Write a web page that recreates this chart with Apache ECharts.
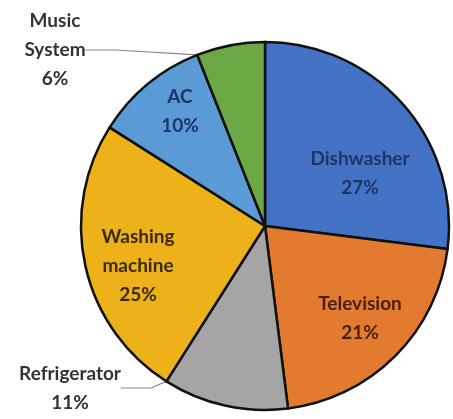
<!DOCTYPE html>
<html><head><meta charset="utf-8">
<script src="https://cdn.jsdelivr.net/npm/echarts@6/dist/echarts.min.js"></script>
<style>html,body{margin:0;padding:0;background:#fff}#c{width:453px;height:419px}</style>
</head><body><div id="c"></div>
<script>
const categories = ['Dishwasher', 'Television', 'Refrigerator', 'Washing\nmachine', 'AC', 'Music\nSystem'];
const values = [27, 21, 11, 25, 10, 6];
const sliceColors = ['#4472C4', '#E27B2F', '#A5A5A5', '#EDB11A', '#5B9BD5', '#6BA846'];
const textColors = ['#1F3566', '#4A1F08', '#333333', '#3D2A00', '#1F3566', '#333333'];
const labelPlace = [
  {x: 360, y: 173},
  {x: 360, y: 318},
  {x: 70, y: 388, line: [[166, 381], [150, 384], [134, 384]]},
  {x: 138, y: 266},
  {x: 180, y: 111},
  {x: 55, y: 50, line: [[197, 47], [150, 54], [97, 58]]}
];
const chart = echarts.init(document.getElementById('c'), null, {renderer: 'canvas'});
chart.setOption({
  animation: false,
  series: [{
    type: 'pie',
    center: [265, 226],
    radius: 184,
    startAngle: 90,
    clockwise: true,
    data: categories.map((n, i) => ({
      name: n, value: values[i],
      itemStyle: {color: sliceColors[i]},
      label: {color: textColors[i]},
      labelLine: {show: !!labelPlace[i].line}
    })),
    itemStyle: {borderColor: '#111', borderWidth: 2.5},
    label: {
      position: 'inside',
      formatter: p => p.name + '\n' + p.value + '%',
      fontFamily: 'Lato', fontWeight: 'bold', fontSize: 19, lineHeight: 29,
      align: 'center'
    },
    labelLine: {lineStyle: {color: '#888', width: 1.2}},
    labelLayout: function (p) {
      const L = labelPlace[p.dataIndex];
      const o = {x: L.x, y: L.y, align: 'center', verticalAlign: 'middle'};
      if (L.line) o.labelLinePoints = L.line;
      return o;
    }
  }]
});
</script></body></html>
